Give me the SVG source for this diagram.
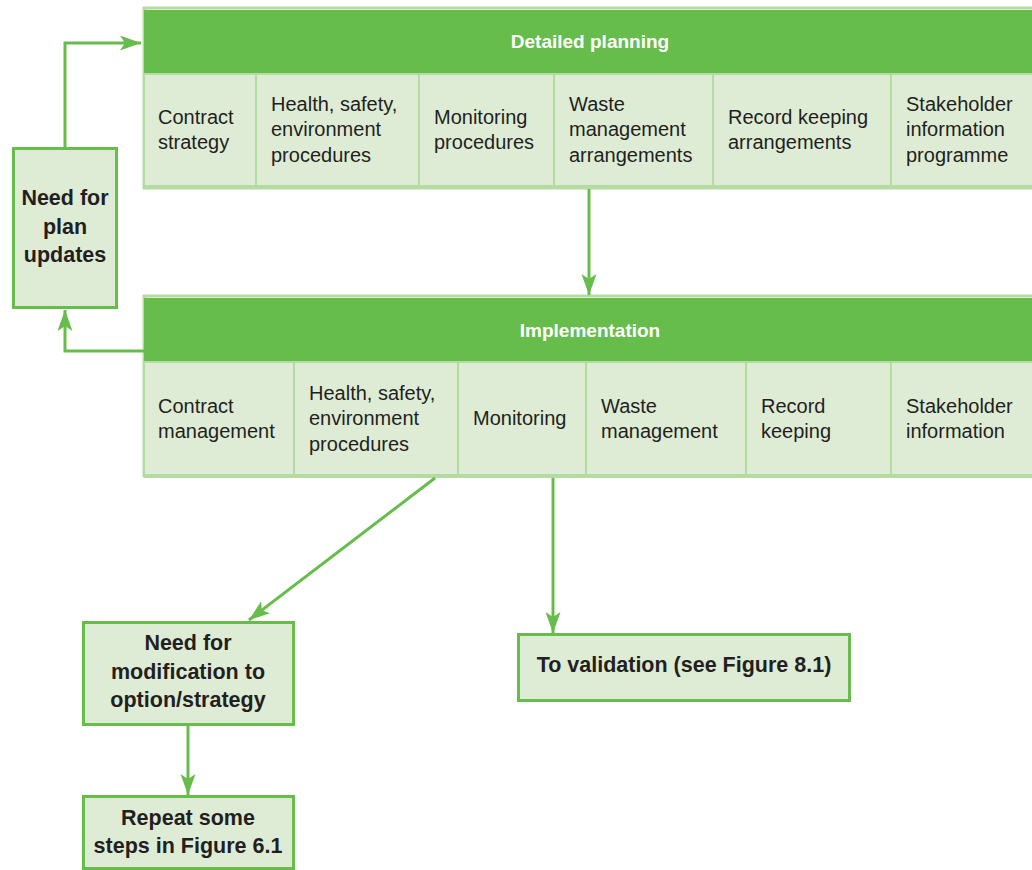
<svg xmlns="http://www.w3.org/2000/svg" width="1032" height="870" viewBox="0 0 1032 870">
<style>
.hdr{fill:#66bd4b}
.cell{fill:#deecd5;stroke:#b4dba2;stroke-width:2}
.frame{fill:none;stroke:#b4dba2;stroke-width:3}
.box{fill:#deecd5;stroke:#66bd4b;stroke-width:3}
.ht{font-family:"Liberation Sans",Arial,sans-serif;font-size:19px;font-weight:bold;fill:#fff;text-anchor:middle}
.ct{font-family:"Liberation Sans",Arial,sans-serif;font-size:20px;fill:#231f20}
.bt{font-family:"Liberation Sans",Arial,sans-serif;font-size:21.5px;font-weight:bold;fill:#231f20;text-anchor:middle}
.conn{fill:none;stroke:#66bd4b;stroke-width:3}
</style>
<defs>
<marker id="ah" markerUnits="userSpaceOnUse" markerWidth="24" markerHeight="16" refX="21" refY="7.5" orient="auto">
<path d="M0,0 L21,7.5 L0,15 L5,7.5 Z" fill="#66bd4b"/>
</marker>
</defs>
<g id="detailed-planning">
<rect x="144" y="8" width="890" height="180" class="frame"/>
<rect x="144" y="10" width="890" height="64" class="hdr"/>
<rect x="144" y="74" width="112" height="112" class="cell"/>
<rect x="256" y="74" width="163" height="112" class="cell"/>
<rect x="419" y="74" width="135" height="112" class="cell"/>
<rect x="554" y="74" width="159" height="112" class="cell"/>
<rect x="713" y="74" width="178" height="112" class="cell"/>
<rect x="891" y="74" width="143" height="112" class="cell"/>
<line x1="144" y1="187" x2="1032" y2="187" stroke="#b4dba2" stroke-width="4"/>
<text class="ht" x="590" y="48">Detailed planning</text>
<text class="ct"><tspan x="158" y="124">Contract</tspan><tspan x="158" y="149">strategy</tspan></text>
<text class="ct"><tspan x="271" y="111">Health, safety,</tspan><tspan x="271" y="136">environment</tspan><tspan x="271" y="162">procedures</tspan></text>
<text class="ct"><tspan x="434" y="124">Monitoring</tspan><tspan x="434" y="149">procedures</tspan></text>
<text class="ct"><tspan x="569" y="111">Waste</tspan><tspan x="569" y="136">management</tspan><tspan x="569" y="162">arrangements</tspan></text>
<text class="ct"><tspan x="728" y="124">Record keeping</tspan><tspan x="728" y="149">arrangements</tspan></text>
<text class="ct"><tspan x="906" y="111">Stakeholder</tspan><tspan x="906" y="136">information</tspan><tspan x="906" y="162">programme</tspan></text>
</g>
<g id="implementation">
<rect x="144" y="296" width="890" height="180" class="frame"/>
<rect x="144" y="298" width="890" height="64" class="hdr"/>
<rect x="144" y="362" width="150" height="113" class="cell"/>
<rect x="294" y="362" width="164" height="113" class="cell"/>
<rect x="458" y="362" width="128" height="113" class="cell"/>
<rect x="586" y="362" width="160" height="113" class="cell"/>
<rect x="746" y="362" width="145" height="113" class="cell"/>
<rect x="891" y="362" width="143" height="113" class="cell"/>
<line x1="144" y1="476" x2="1032" y2="476" stroke="#b4dba2" stroke-width="4"/>
<text class="ht" x="590" y="337">Implementation</text>
<text class="ct"><tspan x="158" y="413">Contract</tspan><tspan x="158" y="438">management</tspan></text>
<text class="ct"><tspan x="309" y="400">Health, safety,</tspan><tspan x="309" y="425">environment</tspan><tspan x="309" y="451">procedures</tspan></text>
<text class="ct"><tspan x="473" y="425">Monitoring</tspan></text>
<text class="ct"><tspan x="601" y="413">Waste</tspan><tspan x="601" y="438">management</tspan></text>
<text class="ct"><tspan x="761" y="413">Record</tspan><tspan x="761" y="438">keeping</tspan></text>
<text class="ct"><tspan x="906" y="413">Stakeholder</tspan><tspan x="906" y="438">information</tspan></text>
</g>
<g id="plan-updates">
<rect x="13.5" y="148.5" width="103" height="159" class="box"/>
<text class="bt"><tspan x="65" y="205">Need for</tspan><tspan x="65" y="234">plan</tspan><tspan x="65" y="262">updates</tspan></text>
</g>
<g id="modification">
<rect x="83.5" y="622.5" width="210" height="102" class="box"/>
<text class="bt"><tspan x="188" y="650">Need for</tspan><tspan x="188" y="679">modification to</tspan><tspan x="188" y="707">option/strategy</tspan></text>
</g>
<g id="repeat">
<rect x="83.5" y="796.5" width="210" height="72" class="box"/>
<text class="bt"><tspan x="188" y="825">Repeat some</tspan><tspan x="188" y="853">steps in Figure 6.1</tspan></text>
</g>
<g id="validation">
<rect x="518.5" y="634.5" width="331" height="66" class="box"/>
<text class="bt" x="684" y="672">To validation (see Figure 8.1)</text>
</g>
<g id="connectors">
<path class="conn" d="M65,148 V43 H141" marker-end="url(#ah)"/>
<path class="conn" d="M144,351 H65 V310" marker-end="url(#ah)"/>
<path class="conn" d="M589,189 V295" marker-end="url(#ah)"/>
<path class="conn" d="M435,478 L249,620" marker-end="url(#ah)"/>
<path class="conn" d="M553,478 V633" marker-end="url(#ah)"/>
<path class="conn" d="M188,724 V795" marker-end="url(#ah)"/>
</g>
</svg>
